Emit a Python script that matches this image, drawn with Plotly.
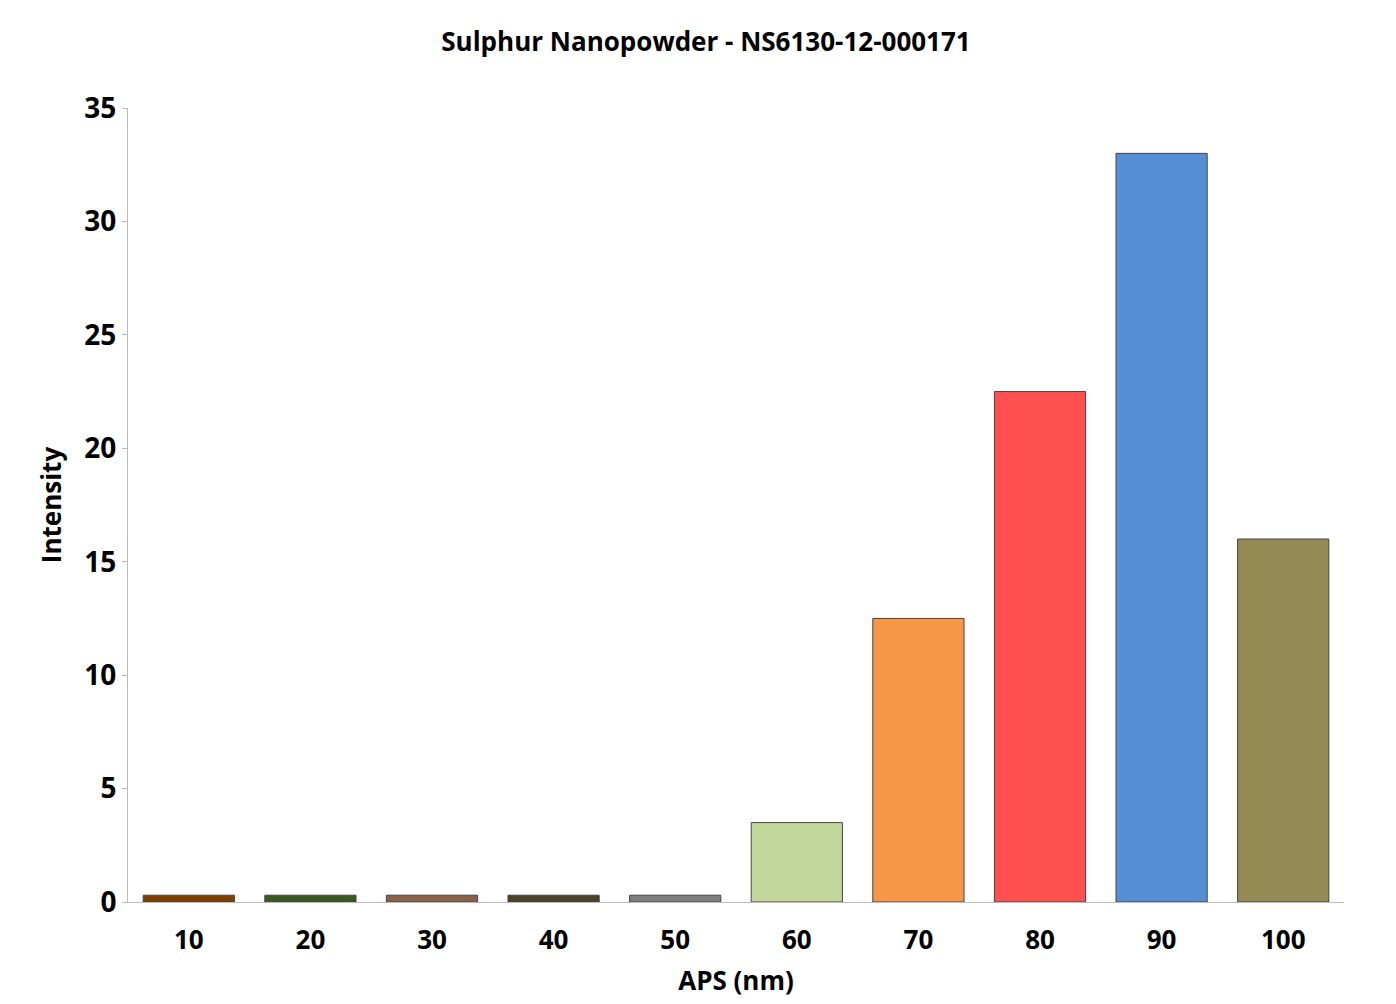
import plotly.graph_objects as go

categories = ["10", "20", "30", "40", "50", "60", "70", "80", "90", "100"]
values = [0.3, 0.3, 0.3, 0.3, 0.3, 3.5, 12.5, 22.5, 33, 16]
colors = ["#7f3f00", "#3a5a1f", "#8a6048", "#4a4325", "#7f7f7f",
          "#c4d79b", "#f79646", "#ff5050", "#558ed5", "#948a54"]

fig = go.Figure(go.Bar(
    x=categories, y=values, marker=dict(color=colors, line=dict(color="#444", width=1)),
    width=0.75,
))
fig.update_layout(
    width=1396, height=1004,
    paper_bgcolor="white", plot_bgcolor="white",
    font=dict(family="Open Sans", color="black"),
    title=dict(text="<b>Sulphur Nanopowder - NS6130-12-000171</b>", x=0.5, y=0.975,
               font=dict(size=26)),
    margin=dict(l=120, r=60, t=100, b=110),
    showlegend=False,
    bargap=0.25,
)
fig.update_xaxes(title=dict(text="<b>APS (nm)</b>", font=dict(size=26)),
                 tickfont=dict(size=26), showline=True, linecolor="#bbb",
                 ticks="", ticklabelstandoff=15)
fig.update_yaxes(title=dict(text="<b>Intensity</b>", font=dict(size=26)),
                 tickfont=dict(size=28), range=[0, 35], dtick=5,
                 showline=True, linecolor="#bbb", ticks="outside", tickcolor="#bbb",
                 showgrid=False, tickprefix="<b>", ticksuffix="</b>")
fig.update_xaxes(tickprefix="<b>", ticksuffix="</b>")
fig.write_html("out.html")
